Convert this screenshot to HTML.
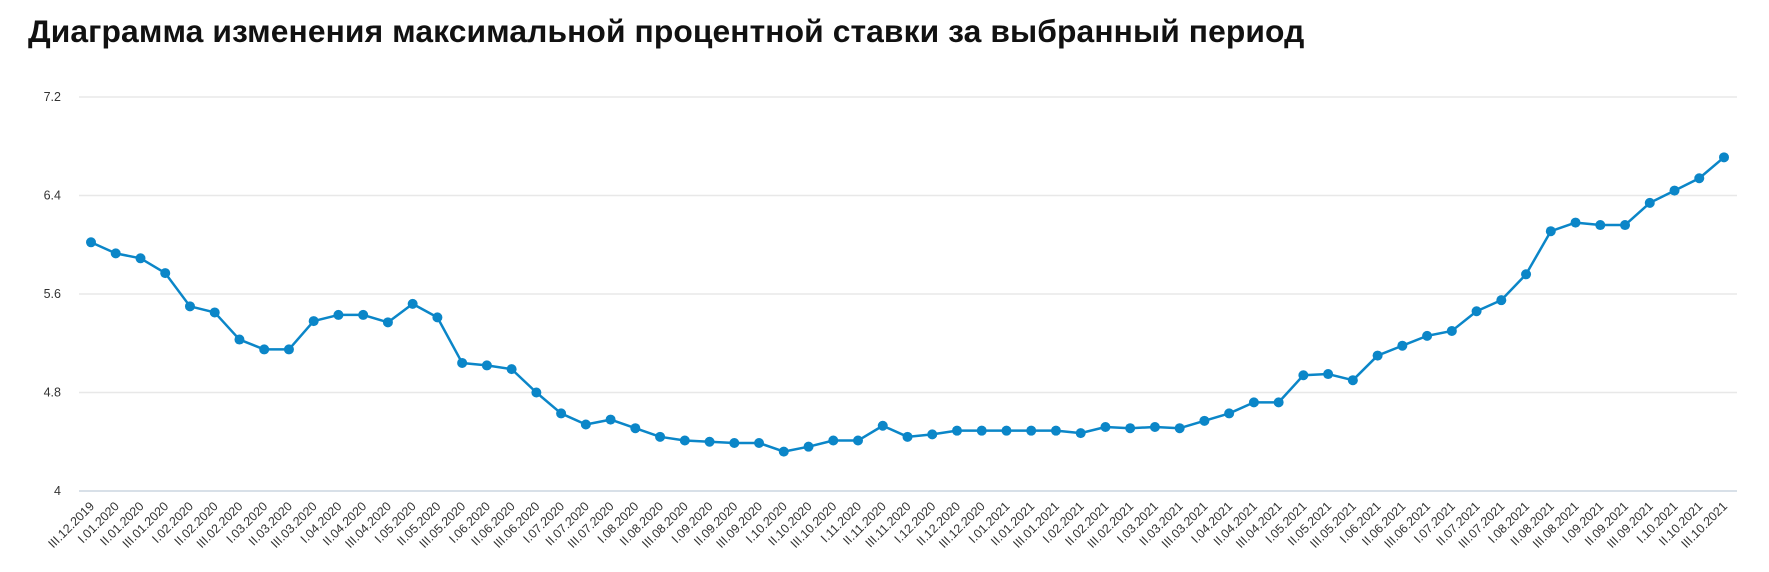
<!DOCTYPE html>
<html><head><meta charset="utf-8"><style>
body{margin:0;background:#fff;width:1769px;height:572px;overflow:hidden;font-family:"Liberation Sans",sans-serif}
h1{position:absolute;left:28px;top:13px;margin:0;font-size:31.8px;font-weight:bold;color:#111;letter-spacing:0.1px;white-space:nowrap}
svg{position:absolute;left:0;top:0}
</style></head><body>
<h1>Диаграмма изменения максимальной процентной ставки за выбранный период</h1>
<svg id="c" width="1769" height="572"></svg>
<script>
const months=['01','02','03','04','05','06','07','08','09','10','11','12'];
const categories=['III.12.2019'];
['2020','2021'].forEach(y=>{months.forEach(m=>{if(y==='2021'&&+m>10)return;['I','II','III'].forEach(d=>categories.push(d+'.'+m+'.'+y));});});
const values=[6.02,5.93,5.89,5.77,5.50,5.45,5.23,5.15,5.15,5.38,5.43,5.43,5.37,5.52,5.41,5.04,5.02,4.99,4.80,4.63,4.54,4.58,4.51,4.44,4.41,4.40,4.39,4.39,4.32,4.36,4.41,4.41,4.53,4.44,4.46,4.49,4.49,4.49,4.49,4.49,4.47,4.52,4.51,4.52,4.51,4.57,4.63,4.72,4.72,4.94,4.95,4.90,5.10,5.18,5.26,5.30,5.46,5.55,5.76,6.11,6.18,6.16,6.16,6.34,6.44,6.54,6.71];
const yTicks=[4,4.8,5.6,6.4,7.2];
const NS='http://www.w3.org/2000/svg';
const svg=document.getElementById('c');
const x0=91,x1=1724,y0=491,y1=97,vMin=4,vMax=7.2;
const xs=i=>x0+(x1-x0)*i/(categories.length-1);
const ys=v=>y0-(v-vMin)/(vMax-vMin)*(y0-y1);
function mk(t,a){const e=document.createElementNS(NS,t);for(const k in a)e.setAttribute(k,a[k]);svg.appendChild(e);return e;}
yTicks.forEach(t=>{
 const l=mk('line',{x1:79,x2:1737,y1:ys(t),y2:ys(t),stroke:t===4?'#ccd6e0':'#e8e8e8','stroke-width':1.5});
 
 
 const tx=mk('text',{x:61,y:ys(t)+4,'text-anchor':'end','font-size':12.5,fill:'#333'});
 tx.textContent=String(t);
 
 
});
categories.forEach((c,i)=>{
 const x=xs(i);
 const tx=mk('text',{x:x+4,y:507,'text-anchor':'end','font-size':12.5,fill:'#333',transform:`rotate(-45 ${x+4} 507)`});
 tx.textContent=c;
 
 
});
const p=mk('polyline',{points:values.map((v,i)=>xs(i)+','+ys(v)).join(' '),fill:'none',stroke:'#0b86c8','stroke-width':2.5,'stroke-linejoin':'round'});


values.forEach((v,i)=>{
 const d=mk('circle',{cx:xs(i),cy:ys(v),r:5,fill:'#0b86c8'});
 
 
});
</script>
</body></html>
